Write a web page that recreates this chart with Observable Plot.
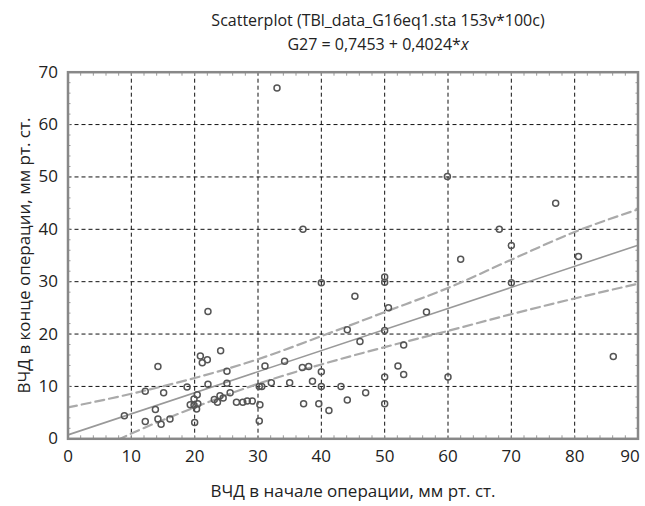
<!DOCTYPE html>
<html>
<head>
<meta charset="utf-8">
<script src="https://cdn.jsdelivr.net/npm/d3@7"></script>
<script src="https://cdn.jsdelivr.net/npm/@observablehq/plot@0.6"></script>
<style>
  html, body { margin: 0; padding: 0; background: #fff; }
  body { width: 645px; height: 506px; overflow: hidden; font-family: "Open Sans", sans-serif; }
  #title { box-sizing: border-box; height: 52px; padding: 8px 0 0 111px; text-align: center;
           font-size: 16px; line-height: 24px; color: #222; }
  #chart svg { display: block; }
</style>
</head>
<body>
<div id="title">
  <div>Scatterplot (TBl_data_G16eq1.sta 153v*100c)</div>
  <div>G27 = 0,7453 + 0,4024*<i>x</i></div>
</div>
<div id="chart"></div>
<script>
// Observed points: ВЧД в начале операции (x) vs ВЧД в конце операции (y)
const startICP = [33.0, 59.9, 37.1, 77.0, 68.1, 70.0, 62.0, 80.6, 70.0, 86.1,
  60.0, 50.0, 50.0, 40.0, 45.3, 50.6, 56.6, 22.1, 44.1, 50.0,
  46.1, 53.0, 24.1, 20.9, 21.2, 22.0, 14.2, 31.1, 34.2, 37.0,
  38.0, 40.0, 52.1, 53.0, 50.0, 25.1, 12.2, 15.1, 18.8, 22.1,
  25.1, 20.4, 19.9, 23.1, 23.6, 24.0, 24.5, 25.6, 30.2, 30.6,
  32.1, 35.0, 38.6, 40.0, 43.1, 47.0, 44.1, 26.6, 27.6, 28.3,
  29.1, 30.3, 37.2, 39.6, 41.2, 50.0, 19.3, 19.9, 20.5, 20.3,
  13.8, 8.9, 12.2, 14.2, 14.7, 16.1, 20.0, 30.2];
const endICP = [67.0, 50.1, 40.0, 45.0, 40.0, 36.9, 34.3, 34.8, 29.8, 15.7,
  11.8, 30.9, 29.9, 29.8, 27.2, 25.0, 24.2, 24.3, 20.8, 20.7,
  18.6, 17.9, 16.8, 15.8, 14.5, 15.1, 13.8, 13.9, 14.8, 13.6,
  13.8, 12.8, 13.9, 12.3, 11.8, 12.9, 9.1, 8.8, 9.9, 10.4,
  10.6, 8.4, 7.6, 7.5, 7.0, 8.2, 7.8, 8.8, 10.0, 10.0,
  10.7, 10.7, 11.0, 10.0, 10.0, 8.8, 7.4, 7.0, 7.0, 7.2,
  7.2, 6.5, 6.7, 6.7, 5.4, 6.7, 6.5, 6.4, 6.7, 5.7,
  5.6, 4.4, 3.3, 3.8, 2.8, 3.8, 3.1, 3.4];

// Fitted line G27 = 0,7453 + 0,4024*x (end points)
const fitX = [0, 90];
const fitY = [0.75, 36.96];

// 95% confidence band
const bandX = [0, 10, 20, 30, 40, 50, 60, 70, 80, 90];
const bandUpper = [6.0, 8.6, 11.6, 15.2, 19.6, 24.2, 28.8, 34.2, 39.5, 43.8];
const bandLower = [-5.0, 1.0, 6.0, 10.5, 14.2, 17.5, 20.6, 23.8, 26.8, 29.6];

const xTicks = [0, 10, 20, 30, 40, 50, 60, 70, 80, 90];
const yTicks = [0, 10, 20, 30, 40, 50, 60, 70];

const points = startICP.map((x, i) => ({x, y: endICP[i]}));
const fit = fitX.map((x, i) => ({x, y: fitY[i]}));
const upper = bandX.map((x, i) => ({x, y: bandUpper[i]}));
const lower = bandX.map((x, i) => ({x, y: bandLower[i]}));

const chart = Plot.plot({
  width: 645,
  height: 454,
  marginTop: 19.7,
  marginBottom: 67.7,
  marginLeft: 67.5,
  marginRight: 7.5,
  style: {fontFamily: "Open Sans, sans-serif", fontSize: "17px", color: "#222", background: "#fff"},
  x: {domain: [0, 90]},
  y: {domain: [0, 70]},
  marks: [
    Plot.gridX(xTicks.slice(1, -1), {stroke: "#111", strokeOpacity: 1, strokeWidth: 1, strokeDasharray: "4,3"}),
    Plot.gridY(yTicks.slice(1, -1), {stroke: "#111", strokeOpacity: 1, strokeWidth: 1, strokeDasharray: "4,3"}),
    Plot.axisX(d3.range(0, 91, 2), {anchor: "bottom", tickSize: -3, text: null, stroke: "#999", label: null}),
    Plot.axisX(d3.range(0, 91, 2), {anchor: "top", tickSize: -3, text: null, stroke: "#999", label: null}),
    Plot.axisY(d3.range(0, 71, 2), {anchor: "left", tickSize: -3, text: null, stroke: "#999", label: null}),
    Plot.axisY(d3.range(0, 71, 2), {anchor: "right", tickSize: -3, text: null, stroke: "#999", label: null}),
    Plot.axisX(xTicks.slice(0, -1), {anchor: "bottom", tickSize: 0, tickPadding: 11, fontSize: 17,
      label: "ВЧД в начале операции, мм рт. ст.", labelAnchor: "center", labelArrow: "none", labelOffset: 58, fontSize: 17}),
    Plot.axisX(xTicks.slice(-1), {anchor: "bottom", tickSize: 0, tickPadding: 11, fontSize: 17, dx: -8, label: null}),
    Plot.axisY(yTicks, {anchor: "left", tickSize: 0, tickPadding: 10, fontSize: 17,
      label: "ВЧД в конце операции, мм рт. ст.", labelAnchor: "center", labelArrow: "none", labelOffset: 50}),
    Plot.line(upper, {x: "x", y: "y", stroke: "#aaa", strokeWidth: 2.2, strokeDasharray: "9,5", curve: "monotone-x", clip: true}),
    Plot.line(lower, {x: "x", y: "y", stroke: "#aaa", strokeWidth: 2.2, strokeDasharray: "9,5", curve: "monotone-x", clip: true}),
    Plot.line(fit, {x: "x", y: "y", stroke: "#999", strokeWidth: 1.6}),
    Plot.dot(points, {x: "x", y: "y", r: 3, stroke: "#555", strokeWidth: 1.5, fill: "none"}),
    Plot.frame({stroke: "#888", strokeWidth: 2.5})
  ]
});
document.getElementById("chart").appendChild(chart);
</script>
</body>
</html>
